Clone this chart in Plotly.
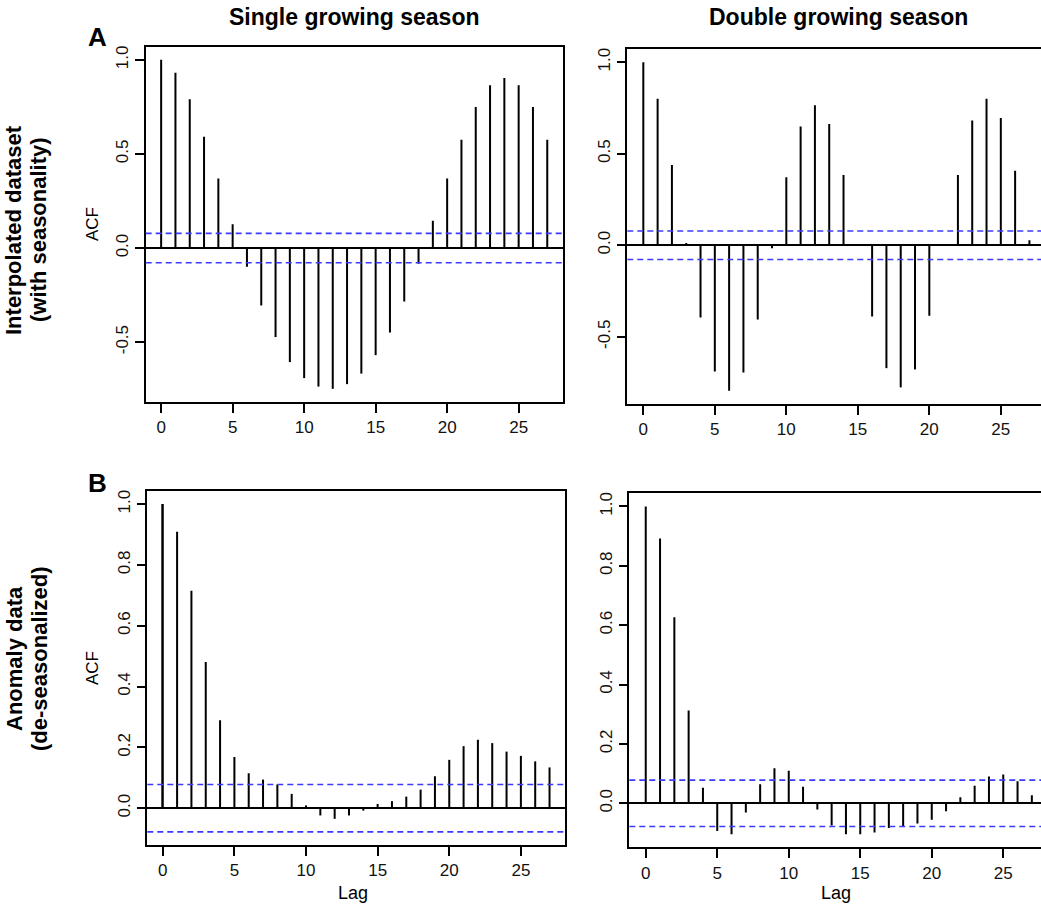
import plotly.graph_objects as go

W, H = 1041, 911

# ---------------- data ----------------
lags = list(range(28))

acf_single_interp = [1.0, 0.931, 0.791, 0.592, 0.369, 0.126, -0.099, -0.305, -0.473, -0.606,
                     -0.691, -0.736, -0.748, -0.723, -0.667, -0.569, -0.449, -0.284, -0.083, 0.145,
                     0.369, 0.576, 0.750, 0.865, 0.904, 0.865, 0.750, 0.576]
acf_double_interp = [1.0, 0.800, 0.438, 0.013, -0.395, -0.689, -0.795, -0.695, -0.405, -0.016,
                     0.371, 0.649, 0.765, 0.662, 0.384, 0.004, -0.389, -0.671, -0.776, -0.678,
                     -0.385, -0.004, 0.384, 0.682, 0.800, 0.695, 0.407, 0.027]
acf_single_anom = [1.0, 0.909, 0.715, 0.481, 0.289, 0.168, 0.115, 0.094, 0.078, 0.047,
                   0.009, -0.024, -0.035, -0.024, -0.008, 0.014, 0.023, 0.038, 0.061, 0.105,
                   0.159, 0.204, 0.225, 0.214, 0.186, 0.172, 0.154, 0.134]
acf_double_anom = [1.0, 0.892, 0.627, 0.313, 0.052, -0.093, -0.104, -0.031, 0.064, 0.118,
                   0.110, 0.056, -0.021, -0.075, -0.104, -0.104, -0.098, -0.083, -0.077, -0.068,
                   -0.055, -0.027, 0.020, 0.059, 0.090, 0.097, 0.074, 0.027]
conf_limit = 0.078

col_titles = ["Single growing season", "Double growing season"]
row_labels = [["Interpolated dataset", "(with seasonality)"],
              ["Anomaly data", "(de-seasonalized)"]]
panel_letters = ["A", "B"]
x_ticks = [0, 5, 10, 15, 20, 25]
y_ticks_A = [-0.5, 0.0, 0.5, 1.0]
y_ticks_B = [0.0, 0.2, 0.4, 0.6, 0.8, 1.0]

# ---------------- layout helpers ----------------
FONT = "Arial, 'Liberation Sans', Helvetica, sans-serif"
BLUE = "#3b3bff"


def xd(a, b):
    return [max(0.0, a / W), min(1.0, b / W)]


def yd(top, bottom):
    return [1 - bottom / H, 1 - top / H]


def r_ylim(vals):
    lo = min(min(vals), -conf_limit)
    hi = max(max(vals), conf_limit)
    pad = (hi - lo) * 0.04
    return [lo - pad, hi + pad]


panels = [
    # values, xdomain, ydomain, xrange, yticks, right-clipped
    (acf_single_interp, xd(145.7, 562.7), yd(46.7, 402.0), [-1.08, 28.08], y_ticks_A, False),
    (acf_double_interp, xd(627.3, 1041), yd(49.0, 404.0), [-1.12, 27.81], y_ticks_A, True),
    (acf_single_anom, xd(147.3, 565.0), yd(491.0, 845.0), [-1.08, 28.08], y_ticks_B, False),
    (acf_double_anom, xd(629.3, 1041), yd(493.3, 847.3), [-1.15, 27.64], y_ticks_B, True),
]

fig = go.Figure()
layout = dict(
    width=W, height=H,
    margin=dict(l=0, r=0, t=0, b=0),
    paper_bgcolor="white", plot_bgcolor="white",
    showlegend=False,
    font=dict(family=FONT, size=17, color="#111"),
    shapes=[], annotations=[],
)

for i, (vals, xdom, ydom, xr, yt, clipped) in enumerate(panels):
    n = i + 1
    xa = "x" if n == 1 else f"x{n}"
    ya = "y" if n == 1 else f"y{n}"
    fig.add_trace(go.Bar(
        x=lags, y=vals, width=0.14, xaxis=xa, yaxis=ya,
        marker=dict(color="black", line=dict(width=0)),
        hoverinfo="x+y",
    ))
    layout[f"xaxis{'' if n == 1 else n}"] = dict(
        domain=xdom, range=xr, anchor=ya,
        showgrid=False, zeroline=False,
        showline=True, linecolor="black", linewidth=1.6, mirror=True,
        ticks="outside", ticklen=9, tickwidth=1.5, tickcolor="black",
        tickvals=x_ticks, ticktext=[str(t) for t in x_ticks],
        tickfont=dict(size=17, color="#111"),
    )
    layout[f"yaxis{'' if n == 1 else n}"] = dict(
        domain=ydom, range=r_ylim(vals), anchor=xa,
        showgrid=False,
        zeroline=True, zerolinecolor="black", zerolinewidth=1.6,
        showline=True, linecolor="black", linewidth=1.6, mirror=not clipped,
        ticks="outside", ticklen=9, tickwidth=1.5, tickcolor="black",
        tickvals=yt, ticktext=[f"{t:.1f}" for t in yt], tickangle=-90,
        tickfont=dict(size=17, color="#111"),
    )
    for c in (conf_limit, -conf_limit):
        layout["shapes"].append(dict(
            type="line", xref=f"{xa} domain", yref=ya,
            x0=0, x1=1, y0=c, y1=c,
            line=dict(color=BLUE, width=1.6, dash="6px,4px"),
        ))

ann = layout["annotations"]


def add_text(text, px, py, size, bold=False, angle=0):
    ann.append(dict(
        text=f"<b>{text}</b>" if bold else text,
        x=px / W, y=1 - py / H, xref="paper", yref="paper",
        xanchor="center", yanchor="middle", showarrow=False,
        textangle=angle, font=dict(size=size, family=FONT, color="black"),
    ))


# column titles
add_text(col_titles[0], 354, 17, 23, bold=True)
add_text(col_titles[1], 838, 17, 23, bold=True)
# panel letters
add_text(panel_letters[0], 97, 37, 26, bold=True)
add_text(panel_letters[1], 97, 483, 26, bold=True)
# row labels
add_text(row_labels[0][0], 14, 230, 22, bold=True, angle=-90)
add_text(row_labels[0][1], 39, 230, 22, bold=True, angle=-90)
add_text(row_labels[1][0], 14, 659, 22, bold=True, angle=-90)
add_text(row_labels[1][1], 39, 659, 22, bold=True, angle=-90)
# ACF labels
add_text("ACF", 92, 224, 17, angle=-90)
add_text("ACF", 92, 668, 17, angle=-90)
# Lag labels
add_text("Lag", 353, 893, 18)
add_text("Lag", 836, 893, 18)

fig.update_layout(**layout)
fig.write_html(
    "out.html",
    config={"displayModeBar": False},
    post_script="document.body.style.margin='0px';document.body.style.overflow='hidden';",
)
